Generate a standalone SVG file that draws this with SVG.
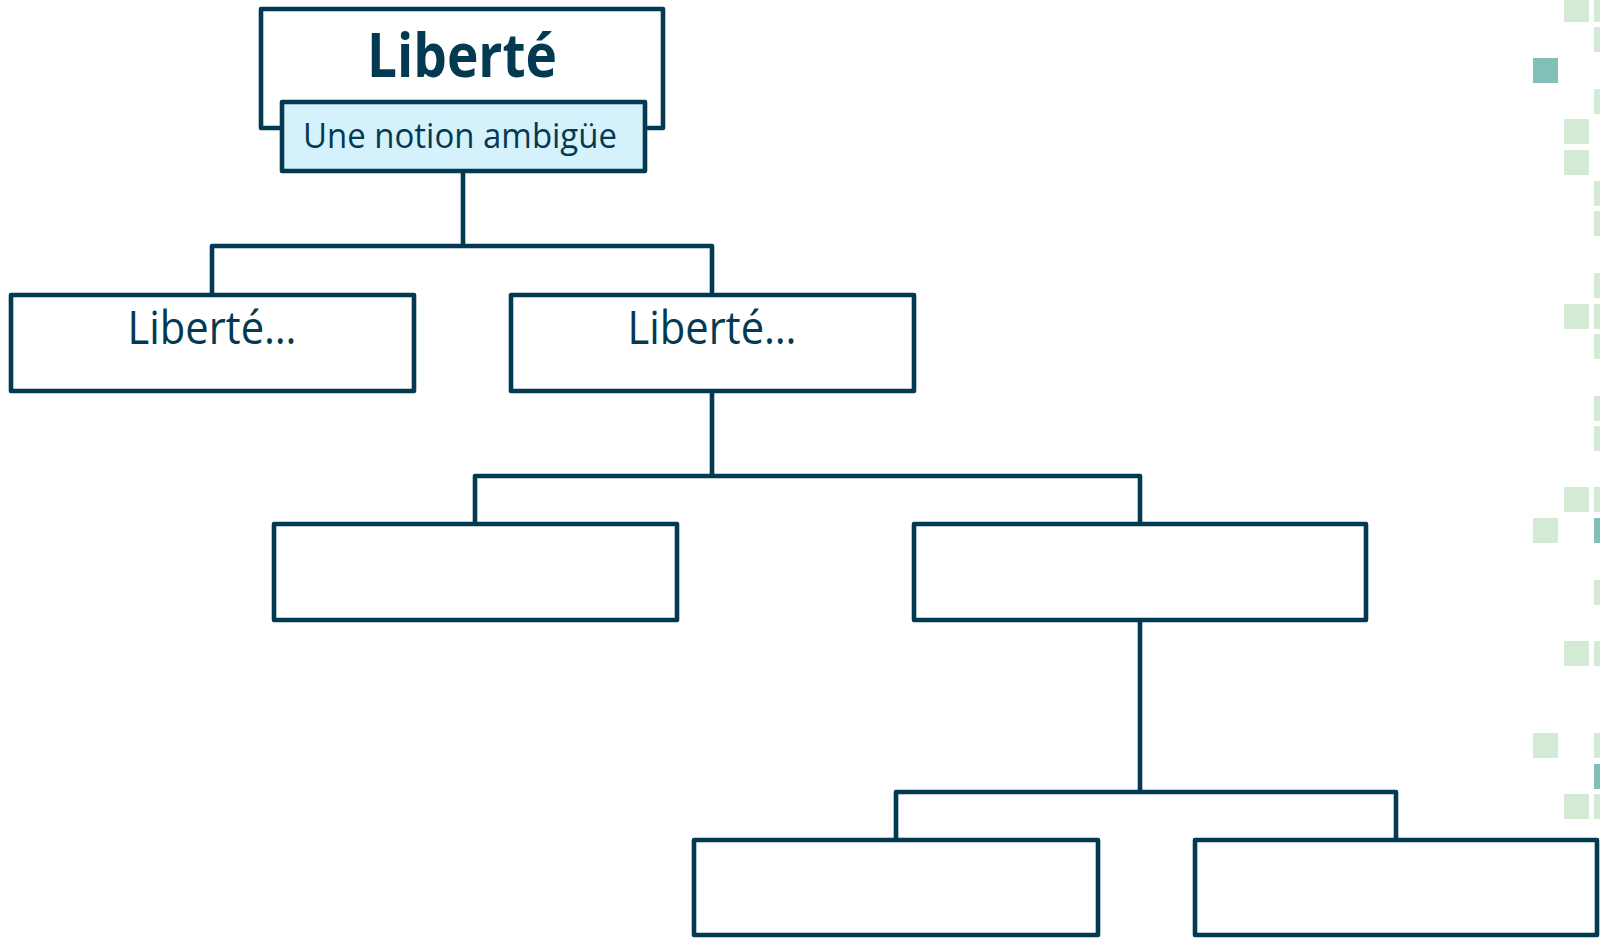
<svg xmlns="http://www.w3.org/2000/svg" width="1600" height="938" viewBox="0 0 1600 938">
<style>
.box{fill:#ffffff;stroke:#033a51;stroke-width:4.6;stroke-linejoin:round}
.sub{fill:#d5f1fc;stroke:#033a51;stroke-width:4.6;stroke-linejoin:round}
.conn{fill:none;stroke:#033a51;stroke-width:4.6;stroke-linejoin:round}
.t{font-family:"Open Sans","Noto Sans","Liberation Sans",sans-serif;fill:#033a51;text-anchor:middle}
.lg{fill:#d4ead5}
.tl{fill:#80c0b8}
</style>
<rect width="1600" height="938" fill="#ffffff"/>
<g id="decor">
<rect class="lg" x="1564" y="-3" width="25" height="25"/>
<rect class="lg" x="1564" y="119" width="25" height="25"/>
<rect class="lg" x="1564" y="150" width="25" height="25"/>
<rect class="lg" x="1564" y="304" width="25" height="25"/>
<rect class="lg" x="1564" y="487" width="25" height="25"/>
<rect class="lg" x="1564" y="641" width="25" height="25"/>
<rect class="lg" x="1564" y="794" width="25" height="25"/>
<rect class="lg" x="1594" y="-3" width="25" height="25"/>
<rect class="lg" x="1594" y="27" width="25" height="25"/>
<rect class="lg" x="1594" y="89" width="25" height="25"/>
<rect class="lg" x="1594" y="181" width="25" height="25"/>
<rect class="lg" x="1594" y="211" width="25" height="25"/>
<rect class="lg" x="1594" y="273" width="25" height="25"/>
<rect class="lg" x="1594" y="304" width="25" height="25"/>
<rect class="lg" x="1594" y="334" width="25" height="25"/>
<rect class="lg" x="1594" y="396" width="25" height="25"/>
<rect class="lg" x="1594" y="426" width="25" height="25"/>
<rect class="lg" x="1594" y="487" width="25" height="25"/>
<rect class="tl" x="1594" y="518" width="25" height="25"/>
<rect class="lg" x="1594" y="580" width="25" height="25"/>
<rect class="lg" x="1594" y="641" width="25" height="25"/>
<rect class="lg" x="1594" y="733" width="25" height="25"/>
<rect class="tl" x="1594" y="764" width="25" height="25"/>
<rect class="lg" x="1594" y="794" width="25" height="25"/>
<rect class="tl" x="1533" y="58" width="25" height="25"/>
<rect class="lg" x="1533" y="518" width="25" height="25"/>
<rect class="lg" x="1533" y="733" width="25" height="25"/>
</g>
<g id="connectors">
<path class="conn" d="M463 171 V246 M212 295 V246 H712 V295"/>
<path class="conn" d="M712 391 V476 M475 524 V476 H1140 V524"/>
<path class="conn" d="M1140 620 V792 M896 840 V792 H1396 V840"/>
</g>
<g id="root">
<rect class="box" x="261" y="9" width="402" height="119"/>
<text class="t" x="462" y="77" font-size="61" font-weight="700" textLength="190" lengthAdjust="spacingAndGlyphs">Liberté</text>
</g>
<g id="root-sub">
<rect class="sub" x="282" y="102" width="363" height="69"/>
<text class="t" x="460" y="148" font-size="35" textLength="314" lengthAdjust="spacingAndGlyphs">Une notion ambigüe</text>
</g>
<g id="n1">
<rect class="box" x="11" y="295" width="403" height="96"/>
<text class="t" x="212" y="344" font-size="45" textLength="169" lengthAdjust="spacingAndGlyphs">Liberté…</text>
</g>
<g id="n2">
<rect class="box" x="511" y="295" width="403" height="96"/>
<text class="t" x="712" y="344" font-size="45" textLength="169" lengthAdjust="spacingAndGlyphs">Liberté…</text>
</g>
<g id="n3">
<rect class="box" x="274" y="524" width="403" height="96"/>
</g>
<g id="n4">
<rect class="box" x="914" y="524" width="452" height="96"/>
</g>
<g id="n5">
<rect class="box" x="694" y="840" width="404" height="95"/>
</g>
<g id="n6">
<rect class="box" x="1195" y="840" width="402" height="95"/>
</g>
</svg>
